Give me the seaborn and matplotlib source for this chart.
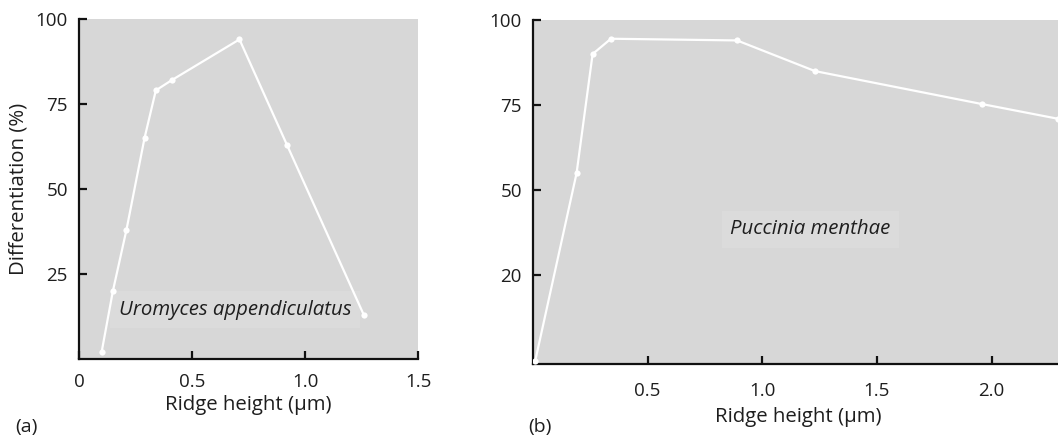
import matplotlib
matplotlib.use("Agg")
import matplotlib.pyplot as plt
import seaborn as sns
import pandas as pd

# Uromyces appendiculatus: ridge height (µm) vs differentiation (%)
uro_height = [0.10, 0.15, 0.21, 0.29, 0.34, 0.41, 0.71, 0.92, 1.26]
uro_diff = [2, 20, 38, 65, 79, 82, 94, 63, 13]

# Puccinia menthae: ridge height (µm) vs differentiation (%)
puc_height = [0.01, 0.19, 0.26, 0.34, 0.89, 1.23, 1.96, 2.29]
puc_diff = [0, 55, 90, 94.5, 94, 85, 75.3, 71]

uro_xticks = [0, 0.5, 1.0, 1.5]
uro_xlabels = ["0", "0.5", "1.0", "1.5"]
uro_yticks = [25, 50, 75, 100]
uro_ylabels = ["25", "50", "75", "100"]

puc_xticks = [0.5, 1.0, 1.5, 2.0]
puc_xlabels = ["0.5", "1.0", "1.5", "2.0"]
puc_yticks = [25, 50, 75, 100]
puc_ylabels = ["20", "50", "75", "100"]

sns.set_style("ticks", {"axes.facecolor": "#d7d7d7"})
plt.rcParams["font.family"] = ["Open Sans", "DejaVu Sans"]

TEXT = "#1e1e1e"
W, H = 1058, 437
fig = plt.figure(figsize=(W / 100, H / 100), dpi=100)
fig.patch.set_facecolor("white")


def px_axes(left, top, right, bottom):
    return fig.add_axes([left / W, 1 - bottom / H, (right - left) / W, (bottom - top) / H])


ax_a = px_axes(79, 19, 418, 359)
ax_b = px_axes(533, 20, 1058, 364)

df_a = pd.DataFrame({"height": uro_height, "diff": uro_diff})
df_b = pd.DataFrame({"height": puc_height, "diff": puc_diff})

line_kw = dict(color="white", linewidth=1.6, marker="o", markersize=4.5,
               markeredgewidth=0, markerfacecolor="white", sort=False, zorder=3)
sns.lineplot(data=df_a, x="height", y="diff", ax=ax_a, **line_kw)
sns.lineplot(data=df_b, x="height", y="diff", ax=ax_b, **line_kw)

for ax in (ax_a, ax_b):
    sns.despine(ax=ax)
    for s in ("left", "bottom"):
        ax.spines[s].set_linewidth(1.6)
        ax.spines[s].set_color("#111111")
    ax.tick_params(direction="in", length=6, width=1.6, color="#111111",
                   labelsize=13.5, labelcolor=TEXT, pad=10)
    ax.tick_params(axis="y", pad=8)
    ax.set_ylabel("")
    ax.set_xlabel("")

ax_a.set_xlim(0, 1.5)
ax_a.set_ylim(0, 100)
ax_a.set_xticks(uro_xticks, uro_xlabels)
ax_a.set_yticks(uro_yticks, uro_ylabels)

ax_b.set_xlim(0, 2.29)
ax_b.set_ylim(-1, 100)
ax_b.set_xticks(puc_xticks, puc_xlabels)
ax_b.set_yticks(puc_yticks, puc_ylabels)
ax_b.tick_params(axis="x", pad=13)

ax_a.set_xlabel("Ridge height (\u03bcm)", fontsize=14.7, color=TEXT, labelpad=3)
ax_a.set_ylabel("Differentiation (%)", fontsize=14.7, color=TEXT, labelpad=5)
ax_b.set_xlabel("Ridge height (\u03bcm)", fontsize=14.7, color=TEXT)
ax_b.xaxis.label.set_va("center")
ax_b.xaxis.set_label_coords(265 / 525, -53 / 344)

box = dict(facecolor="#dbdbdb", edgecolor="none", pad=6)
ax_a.text(0.69, 14.5, "Uromyces appendiculatus", style="italic", fontsize=14.7,
          color=TEXT, ha="center", va="center", bbox=box, zorder=2)
ax_b.text(1.21, 38.5, "Puccinia menthae", style="italic", fontsize=14.7,
          color=TEXT, ha="center", va="center", bbox=box, zorder=2)

fig.text(15 / W, 1 - 427 / H, "(a)", fontsize=14, color=TEXT, va="center", ha="left")
fig.text(528 / W, 1 - 427 / H, "(b)", fontsize=14, color=TEXT, va="center", ha="left")

fig.savefig("out.png", dpi=100, facecolor="white")
